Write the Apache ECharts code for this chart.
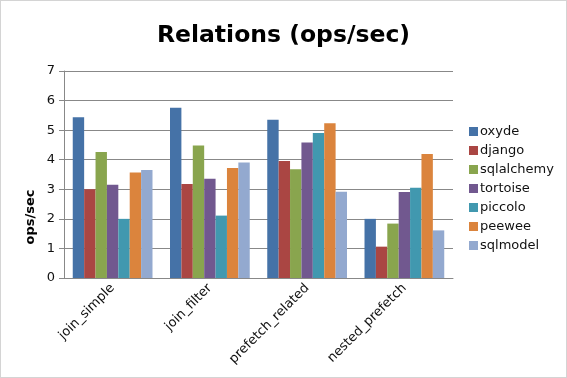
<!DOCTYPE html>
<html>
<head>
<meta charset="utf-8">
<script src="https://cdn.jsdelivr.net/npm/echarts@6/dist/echarts.min.js"></script>
<style>
  html, body { margin: 0; padding: 0; background: #fff; }
  #main { width: 567px; height: 378px; box-sizing: border-box; border: 1px solid #d4d4d4; }
</style>
</head>
<body>
<div id="main"></div>
<script>
// benchmark categories
var categories = ['join_simple', 'join_filter', 'prefetch_related', 'nested_prefetch'];

// ops/sec per ORM
var oxyde      = [5.44, 5.76, 5.35, 2.00];
var django     = [3.00, 3.18, 3.96, 1.06];
var sqlalchemy = [4.26, 4.48, 3.68, 1.84];
var tortoise   = [3.15, 3.36, 4.58, 2.91];
var piccolo    = [2.00, 2.11, 4.90, 3.05];
var peewee     = [3.57, 3.72, 5.23, 4.19];
var sqlmodel   = [3.65, 3.91, 2.92, 1.61];

var seriesNames = ['oxyde', 'django', 'sqlalchemy', 'tortoise', 'piccolo', 'peewee', 'sqlmodel'];
var seriesData = [oxyde, django, sqlalchemy, tortoise, piccolo, peewee, sqlmodel];
var colors = ['#4572A7', '#AA4643', '#89A54E', '#71588F', '#4198AF', '#DB843D', '#93A9CF'];

var font = '"DejaVu Sans"';

var myChart = echarts.init(document.getElementById('main'));

var series = seriesNames.map(function (name, i) {
  return {
    name: name,
    type: 'bar',
    data: seriesData[i],
    barGap: '0%',
    barCategoryGap: '18%',
    itemStyle: { color: colors[i] },
    animation: false
  };
});

myChart.setOption({
  animation: false,
  color: colors,
  title: {
    text: 'Relations (ops/sec)',
    left: 'center',
    top: 18,
    textStyle: { fontFamily: font, fontSize: 23.5, fontWeight: 'bold', color: '#000' }
  },
  legend: {
    orient: 'vertical',
    left: 463,
    top: 119,
    itemWidth: 9,
    itemHeight: 9,
    itemGap: 6,
    icon: 'rect',
    textStyle: { fontFamily: font, fontSize: 13, color: '#111', padding: [0, 0, 0, -3] },
    data: seriesNames
  },
  grid: { left: 63, right: 113, top: 70, bottom: 99 },
  xAxis: {
    type: 'category',
    data: categories,
    axisLine: { lineStyle: { color: '#888', width: 1 } },
    axisTick: { show: false },
    axisLabel: { rotate: 45, fontFamily: font, fontSize: 13, color: '#111', margin: 8 }
  },
  yAxis: {
    type: 'value',
    min: 0,
    max: 7,
    interval: 1,
    axisLine: { show: true, lineStyle: { color: '#888', width: 1 } },
    axisTick: { show: true, length: 5, lineStyle: { color: '#888' } },
    axisLabel: { fontFamily: font, fontSize: 13, color: '#111', margin: 9 },
    splitLine: { lineStyle: { color: '#888', width: 1 } }
  },
  graphic: [{
    type: 'text',
    x: 30,
    y: 216,
    rotation: Math.PI / 2,
    style: {
      text: 'ops/sec',
      fontFamily: font,
      fontSize: 13,
      fontWeight: 'bold',
      fill: '#000',
      textAlign: 'center',
      textVerticalAlign: 'middle'
    }
  }],
  series: series
});
</script>
</body>
</html>
